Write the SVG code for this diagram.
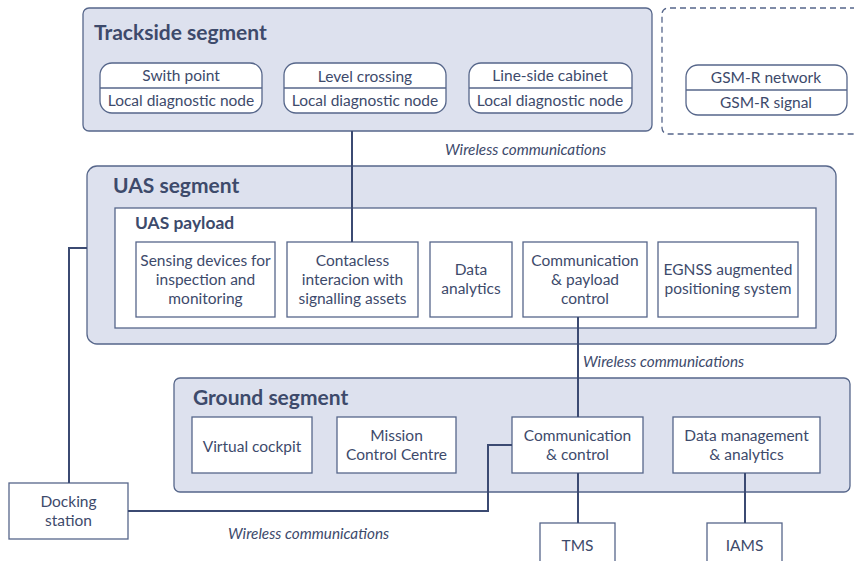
<svg xmlns="http://www.w3.org/2000/svg" width="854" height="561" viewBox="0 0 854 561">
<defs>
<style>
.seg{fill:#dde1ee;stroke:#56668a;stroke-width:1.3}
.box{fill:#ffffff;stroke:#56668a;stroke-width:1.3}
.dash{fill:none;stroke:#56668a;stroke-width:1.3;stroke-dasharray:6 4}
.div{stroke:#56668a;stroke-width:1.3}
.conn{fill:none;stroke:#3b4a72;stroke-width:2}
text{font-family:Lato,"Open Sans","Noto Sans",sans-serif;fill:#3d4a6b}
.t{font-size:15.5px;text-anchor:middle}
.h{font-size:21px;font-weight:bold}
.h2{font-size:17.4px;font-weight:bold}
.lbl{font-size:15.3px;font-style:italic}
</style>
</defs>
<g id="trackside">
<rect class="seg" x="83" y="8" width="569" height="123" rx="6"/>
<text class="h" x="94" y="40">Trackside segment</text>
</g>
<g id="gsmr-area">
<path class="dash" d="M856,8 H668 a6,6 0 0 0 -6,6 V128 a6,6 0 0 0 6,6 H856"/>
</g>
<g id="switch-point">
<rect class="box" x="100" y="63" width="162" height="50" rx="12"/>
<line class="div" x1="100" y1="88" x2="262" y2="88"/>
<text class="t" x="181" y="81">Swith point</text>
<text class="t" x="181" y="106">Local diagnostic node</text>
</g>
<g id="level-crossing">
<rect class="box" x="284" y="63" width="162" height="50" rx="12"/>
<line class="div" x1="284" y1="88" x2="446" y2="88"/>
<text class="t" x="365" y="82">Level crossing</text>
<text class="t" x="365" y="106">Local diagnostic node</text>
</g>
<g id="line-side-cabinet">
<rect class="box" x="469" y="63" width="163" height="50" rx="12"/>
<line class="div" x1="469" y1="88" x2="632" y2="88"/>
<text class="t" x="550" y="81">Line-side cabinet</text>
<text class="t" x="550" y="106">Local diagnostic node</text>
</g>
<g id="gsmr">
<rect class="box" x="686" y="65" width="161" height="50" rx="12"/>
<line class="div" x1="686" y1="90" x2="847" y2="90"/>
<text class="t" x="766" y="83">GSM-R network</text>
<text class="t" x="766" y="108">GSM-R signal</text>
</g>
<g id="uas-segment">
<rect class="seg" x="87" y="166" width="749" height="178" rx="10"/>
<text class="h" x="113" y="193">UAS segment</text>
</g>
<g id="uas-payload">
<rect class="box" x="115" y="208" width="701" height="120"/>
<text class="h2" x="135" y="229">UAS payload</text>
</g>
<g id="sensing">
<rect class="box" x="136" y="242" width="139" height="75"/>
<text class="t" x="205.5" y="266">Sensing devices for</text>
<text class="t" x="205.5" y="285">inspection and</text>
<text class="t" x="205.5" y="304">monitoring</text>
</g>
<g id="contactless">
<rect class="box" x="287" y="242" width="131" height="75"/>
<text class="t" x="352.5" y="266">Contacless</text>
<text class="t" x="352.5" y="285">interacion with</text>
<text class="t" x="352.5" y="304">signalling assets</text>
</g>
<g id="data-analytics">
<rect class="box" x="430" y="242" width="82" height="75"/>
<text class="t" x="471" y="275">Data</text>
<text class="t" x="471" y="294">analytics</text>
</g>
<g id="comm-payload">
<rect class="box" x="523" y="242" width="124" height="75"/>
<text class="t" x="585" y="266">Communication</text>
<text class="t" x="585" y="285">&amp; payload</text>
<text class="t" x="585" y="304">control</text>
</g>
<g id="egnss">
<rect class="box" x="658" y="242" width="140" height="75"/>
<text class="t" x="728" y="275">EGNSS augmented</text>
<text class="t" x="728" y="294">positioning system</text>
</g>
<g id="ground-segment">
<rect class="seg" x="174" y="378" width="676" height="114" rx="6"/>
<text class="h" x="193" y="405">Ground segment</text>
</g>
<g id="virtual-cockpit">
<rect class="box" x="192" y="417" width="120" height="56"/>
<text class="t" x="252" y="452">Virtual cockpit</text>
</g>
<g id="mission-control">
<rect class="box" x="337" y="417" width="119" height="56"/>
<text class="t" x="396.5" y="441">Mission</text>
<text class="t" x="396.5" y="460">Control Centre</text>
</g>
<g id="comm-control">
<rect class="box" x="512" y="417" width="131" height="56"/>
<text class="t" x="577.5" y="441">Communication</text>
<text class="t" x="577.5" y="460">&amp; control</text>
</g>
<g id="data-management">
<rect class="box" x="673" y="417" width="147" height="56"/>
<text class="t" x="746.5" y="441">Data management</text>
<text class="t" x="746.5" y="460">&amp; analytics</text>
</g>
<g id="docking-station">
<rect class="box" x="9" y="483" width="119" height="56"/>
<text class="t" x="68.5" y="507">Docking</text>
<text class="t" x="68.5" y="526">station</text>
</g>
<g id="tms">
<rect class="box" x="540" y="523" width="75" height="45"/>
<text class="t" x="577.5" y="551">TMS</text>
</g>
<g id="iams">
<rect class="box" x="707" y="523" width="75" height="45"/>
<text class="t" x="744.5" y="551">IAMS</text>
</g>
<g id="connectors">
<polyline class="conn" points="352,131 352,242"/>
<polyline class="conn" points="578,317 578,417"/>
<polyline class="conn" points="87,248 69,248 69,483"/>
<polyline class="conn" points="128,511 488,511 488,445 512,445"/>
<polyline class="conn" points="578,473 578,523"/>
<polyline class="conn" points="745,473 745,523"/>
<text class="lbl" x="445" y="155">Wireless communications</text>
<text class="lbl" x="583" y="367">Wireless communications</text>
<text class="lbl" x="228" y="539">Wireless communications</text>
</g>
</svg>
